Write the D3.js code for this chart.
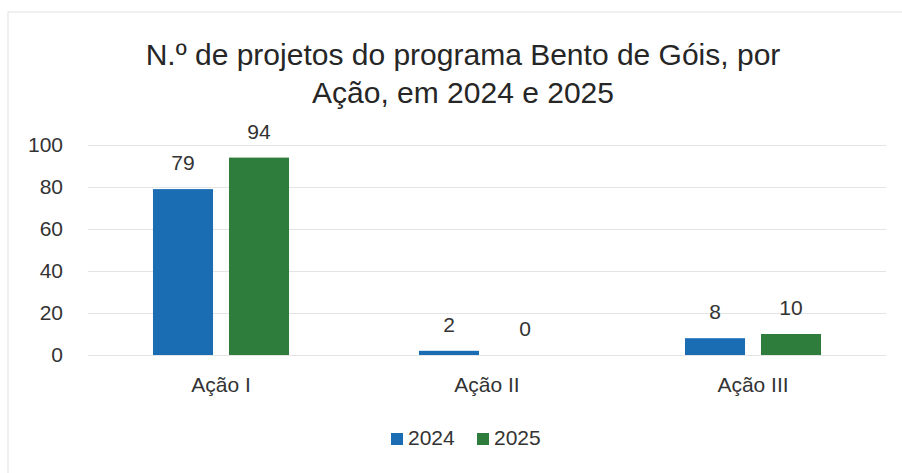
<!DOCTYPE html>
<html>
<head>
<meta charset="utf-8">
<script src="https://cdn.jsdelivr.net/npm/d3@7"></script>
<style>
  body { margin: 0; background: #fff; }
  svg text { font-family: "Liberation Sans", Arial, sans-serif; }
</style>
</head>
<body>
<div id="target"></div>
<script>
// data
const categories = ["Ação I", "Ação II", "Ação III"];
const years = ["2024", "2025"];
const values2024 = [79, 2, 8];
const values2025 = [94, 0, 10];
const yTicks = [0, 20, 40, 60, 80, 100];
const titleLines = ["N.º de projetos do programa Bento de Góis, por", "Ação, em 2024 e 2025"];

const width = 902, height = 473;
const colors = {"2024": "#1b6db3", "2025": "#2f7d3c"};

let svg = d3.select("#target").append("svg")
  .attr("width", width)
  .attr("height", height);

// chart frame (only left/top edge visible in the scan)
svg.append("rect")
  .attr("x", 8).attr("y", 12)
  .attr("width", 920).attr("height", 490)
  .attr("fill", "#fff")
  .attr("stroke", "#e2e2e2");

let x0 = d3.scaleBand()
  .domain(categories)
  .range([88, 886]);

let x1 = d3.scaleBand()
  .domain(years)
  .range([0, x0.bandwidth()])
  .paddingInner(0.21)
  .paddingOuter(0.855);

let y = d3.scaleLinear()
  .domain([0, 100])
  .range([355, 145]);

// title
svg.append("g").selectAll("text")
  .data(titleLines)
  .join("text")
  .attr("x", 463)
  .attr("y", (d, i) => 65 + i * 38)
  .attr("text-anchor", "middle")
  .style("font-size", "30px")
  .attr("fill", "#262626")
  .text(d => d);

// y axis with gridlines
let yAxis = svg.append("g")
  .attr("transform", "translate(88,0)")
  .call(d3.axisLeft(y).tickValues(yTicks).tickSize(-(886 - 88)).tickPadding(25));
yAxis.select(".domain").remove();
yAxis.selectAll(".tick line").attr("stroke", "#e4e4e4");
yAxis.selectAll(".tick text")
  .style("font-size", "21px")
  .attr("fill", "#333");

// x axis labels
let xAxis = svg.append("g")
  .attr("transform", "translate(0,355)")
  .call(d3.axisBottom(x0).tickSize(0).tickPadding(22));
xAxis.select(".domain").remove();
xAxis.selectAll(".tick text")
  .style("font-size", "21px")
  .attr("fill", "#333");

// bars
let rows = categories.map((c, i) => ({cat: c, vals: [
  {year: "2024", value: values2024[i]},
  {year: "2025", value: values2025[i]}
]}));

let groups = svg.append("g").selectAll("g")
  .data(rows)
  .join("g")
  .attr("transform", d => `translate(${x0(d.cat)},0)`);

groups.selectAll("rect")
  .data(d => d.vals)
  .join("rect")
  .attr("x", d => x1(d.year))
  .attr("width", x1.bandwidth())
  .attr("y", d => y(d.value))
  .attr("height", d => y(0) - y(d.value))
  .attr("fill", d => colors[d.year]);

groups.selectAll("text")
  .data(d => d.vals)
  .join("text")
  .attr("x", d => x1(d.year) + x1.bandwidth() / 2)
  .attr("y", d => y(d.value) - 19)
  .attr("text-anchor", "middle")
  .style("font-size", "21px")
  .attr("fill", "#333")
  .text(d => d.value);

// legend
let legend = svg.append("g").selectAll("g")
  .data(years)
  .join("g")
  .attr("transform", (d, i) => `translate(${391 + i * 86},433)`);
legend.append("rect")
  .attr("width", 12).attr("height", 12)
  .attr("fill", d => colors[d]);
legend.append("text")
  .attr("x", 17).attr("y", 12)
  .style("font-size", "21px")
  .attr("fill", "#333")
  .text(d => d);
</script>
</body>
</html>
